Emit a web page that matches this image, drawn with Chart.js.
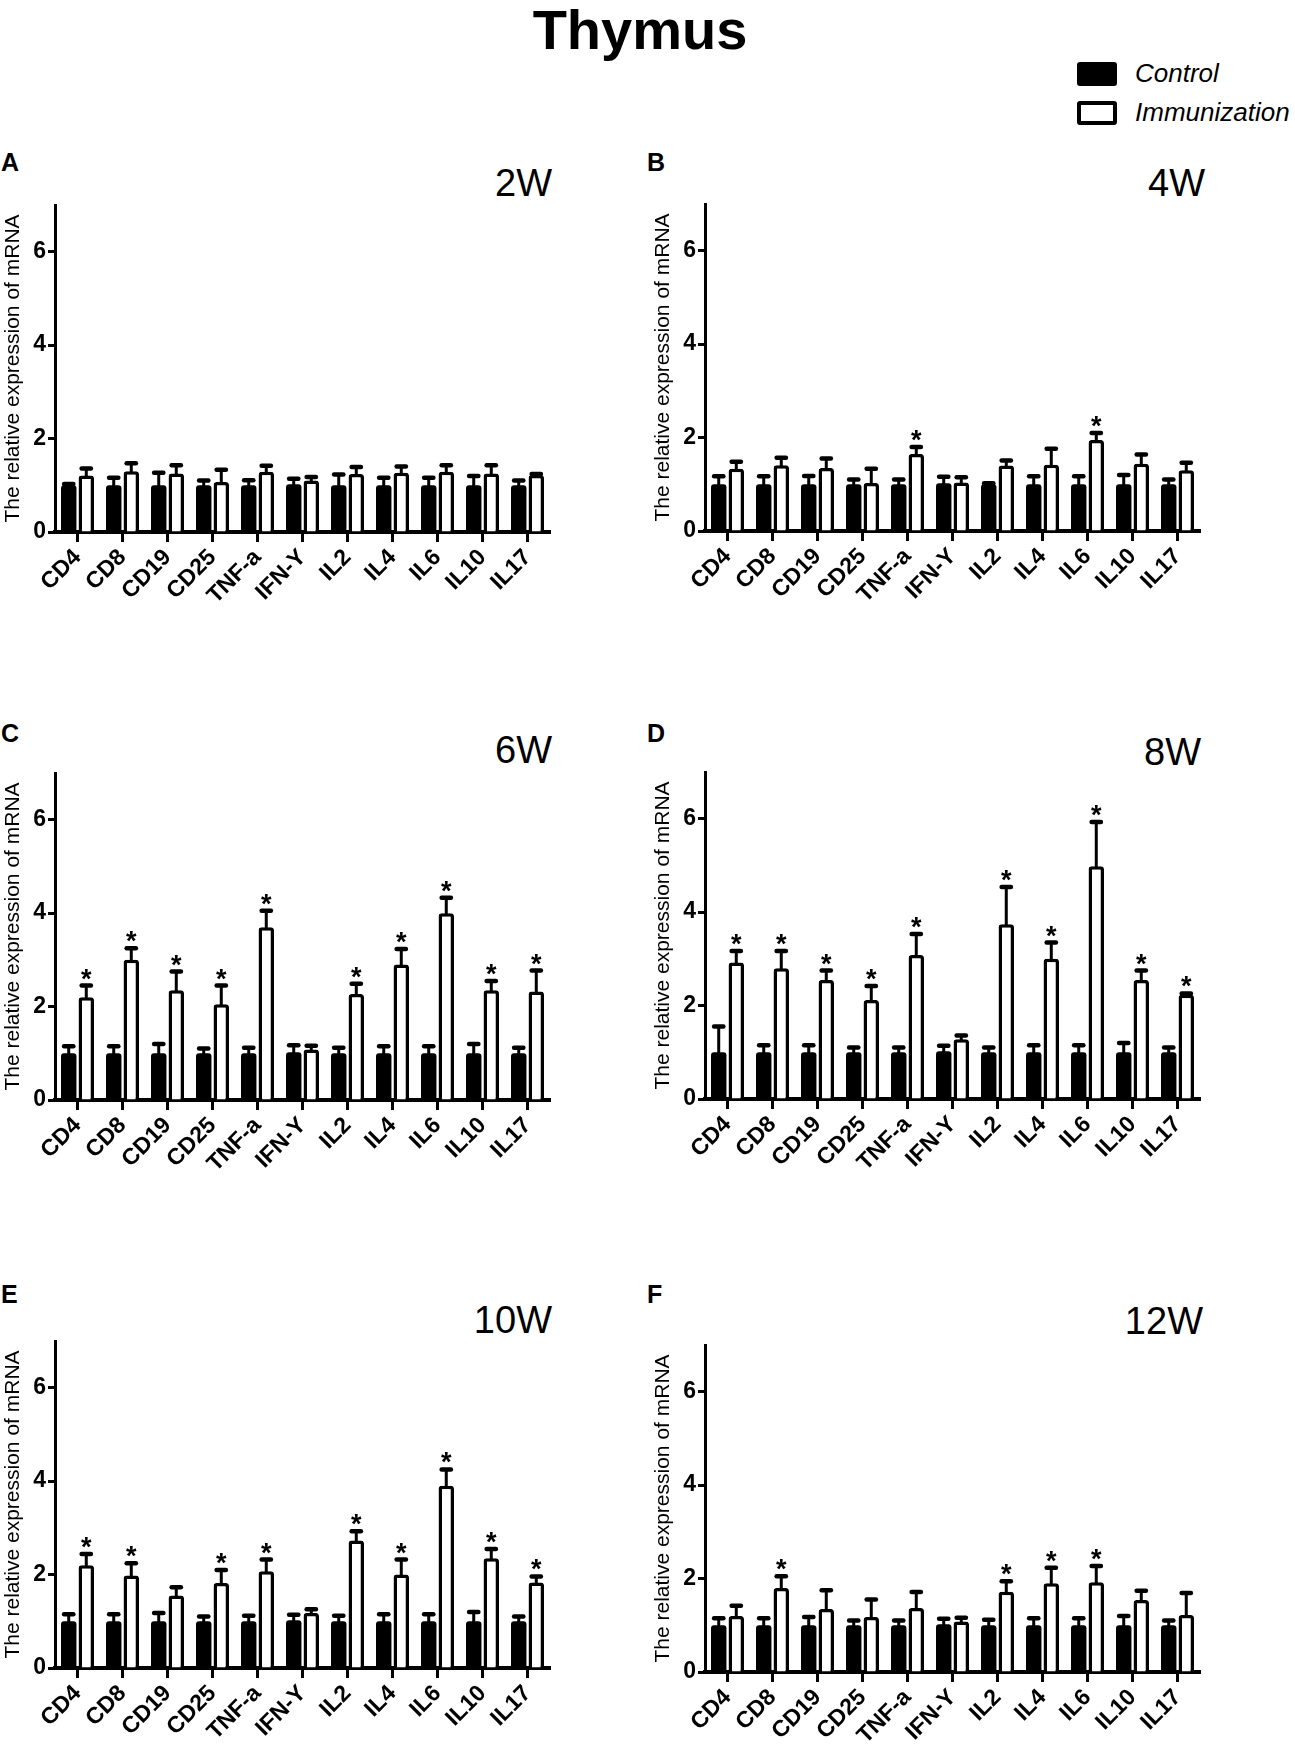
<!DOCTYPE html>
<html>
<head>
<meta charset="utf-8">
<script src="https://cdn.jsdelivr.net/npm/chart.js@4"></script>
<style>
  body { margin: 0; background: #fff; width: 1295px; height: 1755px; position: relative; overflow: hidden; font-family: "Liberation Sans", Arial, sans-serif; }
  canvas { position: absolute; }
  .txt { position: absolute; line-height: 1; color: #000; white-space: nowrap; }
  .letter { font-weight: bold; font-size: 25px; }
  .week { font-family: "Liberation Sans Narrow", "Liberation Sans", sans-serif; font-size: 38px; }
  .sw { position: absolute; width: 40px; height: 24px; box-sizing: border-box; border-radius: 3px; }
</style>
</head>
<body>
<div class="txt" style="left:0;width:1280px;text-align:center;top:2px;font-size:56px;font-weight:bold;">Thymus</div>

<div class="sw" style="left:1077px;top:62px;background:#000;"></div>
<div class="txt" style="left:1135px;top:60px;font-size:26px;font-style:italic;font-family:'Liberation Sans Narrow','Liberation Sans',sans-serif;">Control</div>
<div class="sw" style="left:1077px;top:101px;background:#fff;border:4px solid #000;"></div>
<div class="txt" style="left:1135px;top:99px;font-size:26px;font-style:italic;font-family:'Liberation Sans Narrow','Liberation Sans',sans-serif;">Immunization</div>

<div class="txt letter" style="left:1px;top:150px;">A</div>
<div class="txt letter" style="left:647px;top:150px;">B</div>
<div class="txt letter" style="left:1px;top:721px;">C</div>
<div class="txt letter" style="left:647px;top:721px;">D</div>
<div class="txt letter" style="left:1px;top:1282px;">E</div>
<div class="txt letter" style="left:647px;top:1282px;">F</div>

<div class="txt week" style="right:743px;top:164px;">2W</div>
<div class="txt week" style="right:90px;top:164px;">4W</div>
<div class="txt week" style="right:743px;top:731px;">6W</div>
<div class="txt week" style="right:94px;top:733px;">8W</div>
<div class="txt week" style="right:743px;top:1301px;">10W</div>
<div class="txt week" style="right:92px;top:1302px;">12W</div>

<canvas id="cA" width="560" height="442" style="left:0;top:180px;"></canvas>
<canvas id="cB" width="560" height="442" style="left:650px;top:179px;"></canvas>
<canvas id="cC" width="560" height="442" style="left:0;top:748px;"></canvas>
<canvas id="cD" width="560" height="442" style="left:650px;top:747px;"></canvas>
<canvas id="cE" width="560" height="442" style="left:0;top:1316px;"></canvas>
<canvas id="cF" width="560" height="442" style="left:650px;top:1320px;"></canvas>

<script>
const genes = ['CD4', 'CD8', 'CD19', 'CD25', 'TNF-a', 'IFN-Y', 'IL2', 'IL4', 'IL6', 'IL10', 'IL17'];
const yTicks = [0, 2, 4, 6];

// 2W
const ctrl2W    = [1.0, 1.0, 1.0, 1.0, 1.0, 1.02, 1.0, 1.0, 1.0, 1.0, 1.0];
const ctrlErr2W = [0.03, 0.16, 0.27, 0.1, 0.11, 0.12, 0.23, 0.16, 0.16, 0.2, 0.1];
const imm2W     = [1.21, 1.3, 1.25, 1.07, 1.29, 1.1, 1.24, 1.27, 1.29, 1.25, 1.22];
const immErr2W  = [0.15, 0.17, 0.18, 0.26, 0.13, 0.08, 0.15, 0.13, 0.14, 0.18, 0.02];
const sig2W     = [0, 0, 0, 0, 0, 0, 0, 0, 0, 0, 0];

// 4W
const ctrl4W    = [1.0, 1.0, 1.0, 1.0, 1.0, 1.02, 1.0, 1.0, 1.0, 1.0, 1.0];
const ctrlErr4W = [0.17, 0.17, 0.18, 0.1, 0.1, 0.14, 0.02, 0.17, 0.17, 0.2, 0.1];
const imm4W     = [1.33, 1.41, 1.35, 1.03, 1.65, 1.04, 1.4, 1.42, 1.95, 1.44, 1.3];
const immErr4W  = [0.15, 0.16, 0.2, 0.3, 0.15, 0.11, 0.11, 0.34, 0.15, 0.2, 0.16];
const sig4W     = [0, 0, 0, 0, 1, 0, 0, 0, 1, 0, 0];

// 6W
const ctrl6W    = [1.0, 1.0, 1.0, 1.0, 1.0, 1.02, 1.0, 1.0, 1.0, 1.0, 1.0];
const ctrlErr6W = [0.15, 0.15, 0.2, 0.1, 0.12, 0.15, 0.12, 0.15, 0.15, 0.2, 0.12];
const imm6W     = [2.2, 3.0, 2.35, 2.05, 3.7, 1.08, 2.27, 2.9, 4.0, 2.35, 2.32];
const immErr6W  = [0.25, 0.25, 0.4, 0.4, 0.35, 0.08, 0.22, 0.33, 0.33, 0.2, 0.45];
const sig6W     = [1, 1, 1, 1, 1, 0, 1, 1, 1, 1, 1];

// 8W
const ctrl8W    = [1.0, 1.0, 1.0, 1.0, 1.0, 1.02, 1.0, 1.0, 1.0, 1.0, 1.0];
const ctrlErr8W = [0.55, 0.15, 0.15, 0.1, 0.1, 0.12, 0.1, 0.15, 0.15, 0.2, 0.1];
const imm8W     = [2.92, 2.8, 2.55, 2.12, 3.08, 1.28, 3.74, 3.0, 4.98, 2.55, 2.23];
const immErr8W  = [0.25, 0.37, 0.2, 0.3, 0.45, 0.08, 0.8, 0.35, 0.95, 0.2, 0.03];
const sig8W     = [1, 1, 1, 1, 1, 0, 1, 1, 1, 1, 1];

// 10W
const ctrl10W    = [1.0, 1.0, 1.0, 1.0, 1.0, 1.02, 1.0, 1.0, 1.0, 1.0, 1.0];
const ctrlErr10W = [0.15, 0.15, 0.18, 0.1, 0.12, 0.12, 0.12, 0.15, 0.15, 0.2, 0.1];
const imm10W     = [2.2, 1.98, 1.55, 1.82, 2.07, 1.18, 2.73, 2.0, 3.9, 2.35, 1.83];
const immErr10W  = [0.24, 0.26, 0.18, 0.28, 0.25, 0.08, 0.2, 0.32, 0.35, 0.2, 0.13];
const sig10W     = [1, 1, 0, 1, 1, 0, 1, 1, 1, 1, 1];

// 12W
const ctrl12W    = [1.0, 1.0, 1.0, 1.0, 1.0, 1.02, 1.0, 1.0, 1.0, 1.0, 1.0];
const ctrlErr12W = [0.15, 0.15, 0.18, 0.1, 0.1, 0.12, 0.12, 0.15, 0.15, 0.2, 0.1];
const imm12W     = [1.2, 1.8, 1.35, 1.18, 1.37, 1.08, 1.72, 1.9, 1.92, 1.54, 1.22];
const immErr12W  = [0.22, 0.25, 0.4, 0.37, 0.34, 0.08, 0.22, 0.33, 0.35, 0.2, 0.47];
const sig12W     = [0, 1, 0, 0, 0, 0, 1, 1, 1, 0, 0];

// error bars (mean + SD, upward only) and significance stars
const errorBars = {
  id: 'errorBars',
  afterDatasetsDraw(chart) {
    const ctx = chart.ctx;
    const ys = chart.scales.y;
    ctx.save();
    chart.data.datasets.forEach((ds, di) => {
      const meta = chart.getDatasetMeta(di);
      meta.data.forEach((bar, i) => {
        const top = ys.getPixelForValue(ds.data[i] + ds.err[i]);
        const half = bar.width * 0.3;
        ctx.strokeStyle = '#000';
        ctx.lineCap = 'round';
        ctx.lineWidth = 3;
        ctx.beginPath();
        ctx.moveTo(bar.x, bar.y);
        ctx.lineTo(bar.x, top);
        ctx.stroke();
        ctx.lineWidth = 4.5;
        ctx.beginPath();
        ctx.moveTo(bar.x - half, top);
        ctx.lineTo(bar.x + half, top);
        ctx.stroke();
        if (ds.sig && ds.sig[i]) {
          ctx.fillStyle = '#000';
          ctx.font = 'bold 27px "Liberation Sans", Arial, sans-serif';
          ctx.textAlign = 'center';
          ctx.textBaseline = 'alphabetic';
          ctx.fillText('*', bar.x, top + 2);
        }
      });
    });
    ctx.restore();
  }
};

function makePanel(id, ctrl, ctrlErr, imm, immErr, sig) {
  new Chart(document.getElementById(id), {
    type: 'bar',
    data: {
      labels: genes,
      datasets: [{
        label: 'Control',
        data: ctrl,
        err: ctrlErr,
        backgroundColor: '#000',
        borderColor: '#000',
        borderWidth: 0,
        borderRadius: 3,
        categoryPercentage: 0.78,
        barPercentage: 0.88
      }, {
        label: 'Immunization',
        data: imm,
        err: immErr,
        sig: sig,
        backgroundColor: '#fff',
        borderColor: '#000',
        borderWidth: 3.5,
        borderRadius: 3,
        categoryPercentage: 0.78,
        barPercentage: 0.88
      }]
    },
    options: {
      responsive: false,
      animation: false,
      layout: { padding: { top: 25, right: 10, bottom: 5, left: 0 } },
      plugins: { legend: { display: false }, tooltip: { enabled: false } },
      scales: {
        x: {
          grid: { offset: false, drawOnChartArea: false, drawTicks: true, tickLength: 10, tickWidth: 3, tickColor: '#000' },
          border: { color: '#000', width: 4 },
          ticks: {
            autoSkip: false, maxRotation: 45, minRotation: 45, padding: 2, color: '#000',
            font: { family: '"Liberation Sans", Arial, sans-serif', size: 23, weight: 'bold' }
          },
          afterFit(s) { s.height = 85; }
        },
        y: {
          min: 0, max: 7,
          grid: { drawOnChartArea: false, drawTicks: true, tickLength: 7, tickWidth: 3, tickColor: '#000' },
          border: { color: '#000', width: 3 },
          ticks: {
            stepSize: 2, padding: 2, color: '#000',
            font: { family: '"Liberation Sans", Arial, sans-serif', size: 23, weight: 'bold' }
          },
          afterBuildTicks(s) { s.ticks = yTicks.map(v => ({ value: v })); },
          title: {
            display: true, text: 'The relative expression of mRNA', color: '#000', padding: 1,
            font: { family: '"Liberation Sans", Arial, sans-serif', size: 21 }
          },
          afterFit(s) { s.width = 55; }
        }
      }
    },
    plugins: [errorBars]
  });
}

makePanel('cA', ctrl2W, ctrlErr2W, imm2W, immErr2W, sig2W);
makePanel('cB', ctrl4W, ctrlErr4W, imm4W, immErr4W, sig4W);
makePanel('cC', ctrl6W, ctrlErr6W, imm6W, immErr6W, sig6W);
makePanel('cD', ctrl8W, ctrlErr8W, imm8W, immErr8W, sig8W);
makePanel('cE', ctrl10W, ctrlErr10W, imm10W, immErr10W, sig10W);
makePanel('cF', ctrl12W, ctrlErr12W, imm12W, immErr12W, sig12W);
</script>
</body>
</html>
